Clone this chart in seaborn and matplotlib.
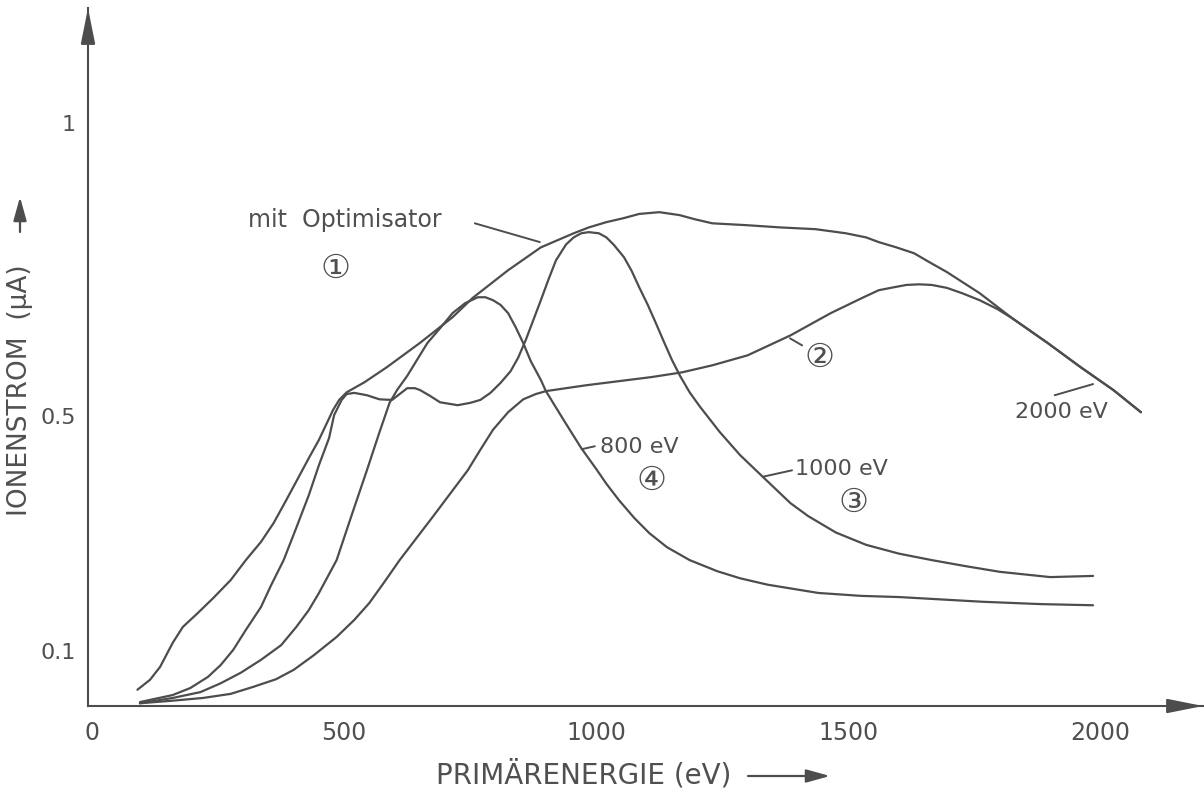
import numpy as np
import pandas as pd
import matplotlib
matplotlib.use("Agg")
import matplotlib.pyplot as plt
import seaborn as sns

# --- data (eV, uA) ---
# curve 1: "mit Optimisator" (envelope)
opt_x = [90, 115, 135, 160, 180, 210, 240, 275, 305, 335, 360, 385, 410, 430, 450, 478,
         490, 505, 540, 585, 650, 715, 755, 825, 890, 955, 985, 1020, 1055, 1085, 1125,
         1165, 1195, 1230, 1295, 1365, 1435, 1495, 1535, 1560, 1595, 1630, 1660, 1695,
         1760, 1825, 1895, 1960, 2025, 2080]
opt_y = [0.034, 0.051, 0.073, 0.114, 0.141, 0.165, 0.190, 0.221, 0.255, 0.286, 0.318,
         0.357, 0.397, 0.429, 0.460, 0.511, 0.528, 0.541, 0.558, 0.584, 0.625, 0.669,
         0.702, 0.749, 0.788, 0.812, 0.822, 0.831, 0.838, 0.845, 0.848, 0.843, 0.836,
         0.829, 0.826, 0.822, 0.819, 0.812, 0.805, 0.797, 0.788, 0.778, 0.763, 0.746,
         0.710, 0.667, 0.625, 0.584, 0.545, 0.507]

# curve 2: optimiser set to 2000 eV
c2_x = [95, 155, 220, 275, 320, 365, 400, 440, 485, 520, 550, 580, 610, 675, 710, 745,
        770, 795, 825, 855, 880, 900, 980, 1045, 1110, 1170, 1230, 1300, 1385, 1465,
        1530, 1560, 1590, 1615, 1640, 1665, 1695, 1725, 1760, 1795, 1825, 1895, 1960,
        2025, 2080]
c2_y = [0.011, 0.015, 0.020, 0.027, 0.039, 0.052, 0.068, 0.093, 0.124, 0.153, 0.182,
        0.218, 0.255, 0.328, 0.368, 0.408, 0.443, 0.477, 0.507, 0.529, 0.538, 0.543,
        0.553, 0.560, 0.567, 0.575, 0.587, 0.604, 0.638, 0.676, 0.703, 0.715, 0.720,
        0.724, 0.725, 0.724, 0.719, 0.710, 0.698, 0.683, 0.667, 0.625, 0.584, 0.545,
        0.507]

# curve 3: optimiser set to 1000 eV
c3_x = [95, 160, 195, 230, 255, 280, 305, 335, 355, 380, 405, 430, 450, 470, 480, 495,
        505, 520, 545, 570, 595, 610, 625, 640, 650, 670, 690, 725, 750, 770, 790, 810,
        830, 845, 860, 875, 890, 905, 920, 940, 955, 970, 985, 1005, 1020, 1035, 1055,
        1070, 1085, 1102, 1118, 1134, 1150, 1166, 1185, 1205, 1245, 1285, 1330, 1385,
        1420, 1475, 1535, 1600, 1665, 1730, 1800, 1900, 1985]
c3_y = [0.013, 0.025, 0.037, 0.056, 0.076, 0.102, 0.136, 0.175, 0.212, 0.255, 0.310,
        0.366, 0.417, 0.463, 0.502, 0.528, 0.538, 0.540, 0.536, 0.529, 0.528, 0.538,
        0.548, 0.548, 0.545, 0.535, 0.524, 0.519, 0.523, 0.528, 0.540, 0.557, 0.577,
        0.600, 0.630, 0.664, 0.698, 0.733, 0.766, 0.793, 0.805, 0.812, 0.814, 0.812,
        0.805, 0.792, 0.771, 0.748, 0.720, 0.690, 0.659, 0.627, 0.596, 0.569, 0.541,
        0.517, 0.473, 0.434, 0.397, 0.352, 0.330, 0.302, 0.281, 0.266, 0.255, 0.245,
        0.235, 0.226, 0.228]

# curve 4: optimiser set to 800 eV
c4_x = [95, 160, 215, 255, 295, 335, 375, 405, 430, 450, 485, 515, 545, 570, 590, 605,
        625, 665, 690, 715, 740, 765, 780, 795, 810, 825, 840, 855, 870, 890, 900, 935,
        970, 1000, 1020, 1045, 1075, 1105, 1140, 1185, 1240, 1285, 1340, 1440, 1525,
        1600, 1765, 1880, 1985]
c4_y = [0.011, 0.020, 0.030, 0.045, 0.063, 0.085, 0.110, 0.141, 0.170, 0.199, 0.255,
        0.332, 0.408, 0.473, 0.523, 0.545, 0.569, 0.625, 0.650, 0.676, 0.693, 0.703,
        0.703, 0.698, 0.690, 0.676, 0.652, 0.625, 0.594, 0.562, 0.543, 0.494, 0.446,
        0.410, 0.385, 0.357, 0.327, 0.301, 0.277, 0.255, 0.236, 0.224, 0.213, 0.199,
        0.194, 0.192, 0.184, 0.180, 0.178]

x_ticks = [0, 500, 1000, 1500, 2000]
y_ticks = [0.1, 0.5, 1]
y_tick_labels = ["0.1", "0.5", "1"]

INK = "#4d4d4d"
TXT = "#505050"

sns.set_style("white")
plt.rcParams["font.family"] = ["DejaVu Sans", "Noto Sans CJK JP"]

fig = plt.figure(figsize=(12.04, 7.9), dpi=100)
ax = fig.add_axes([88 / 1204, 84 / 790, 1115 / 1204, 698 / 790])

for xs, ys in [(opt_x, opt_y), (c2_x, c2_y), (c3_x, c3_y), (c4_x, c4_y)]:
    sns.lineplot(x=xs, y=ys, ax=ax, sort=False, estimator=None, color=INK, lw=1.6)

ax.set_xlim(-8, 2203)
ax.set_ylim(0.0063, 1.196)
sns.despine(ax=ax)
for side in ["left", "bottom"]:
    ax.spines[side].set_color(INK)
    ax.spines[side].set_linewidth(1.5)

ax.set_xticks(x_ticks)
ax.set_xticklabels([str(t) for t in x_ticks])
ax.set_yticks(y_ticks)
ax.set_yticklabels(y_tick_labels)
ax.tick_params(axis="x", direction="out", length=8, width=1.3, color=INK,
               labelsize=17, labelcolor=TXT, pad=3)
ax.tick_params(axis="y", direction="out", length=8, width=1.3, color=INK,
               labelsize=16, labelcolor=TXT, pad=1)

# arrow heads on both axes
head = dict(arrowstyle="-|>,head_length=1.1,head_width=0.22", color=INK, lw=1.5,
            mutation_scale=20, shrinkA=0, shrinkB=0)
ax.annotate("", xy=(1, 0), xytext=(0.97, 0), xycoords="axes fraction",
            textcoords="axes fraction", arrowprops=head, annotation_clip=False)
ax.annotate("", xy=(0, 1), xytext=(0, 0.96), xycoords="axes fraction",
            textcoords="axes fraction", arrowprops=head, annotation_clip=False)

# axis titles with their arrows
fig.text(436 / 1204, 15 / 790, "PRIMÄRENERGIE (eV)", fontsize=20, color=TXT,
         ha="left", va="center")
fig.text(20 / 1204, 400 / 790, "IONENSTROM  (µA)", fontsize=19, color=TXT,
         ha="center", va="center", rotation=90)
small_head = dict(arrowstyle="-|>,head_length=0.9,head_width=0.25", color=INK, lw=1.6,
                  mutation_scale=16, shrinkA=0, shrinkB=0)
ax.annotate("", xy=(830, 14), xytext=(748, 14), xycoords="figure pixels",
            textcoords="figure pixels", arrowprops=small_head, annotation_clip=False)
ax.annotate("", xy=(20, 593), xytext=(20, 558), xycoords="figure pixels",
            textcoords="figure pixels", arrowprops=small_head, annotation_clip=False)

# curve annotations
ax.text(309, 0.834, "mit  Optimisator", fontsize=17, color=TXT, ha="left", va="center")
ax.plot([759, 888], [0.829, 0.797], color=INK, lw=1.4)
ax.text(482, 0.753, "①", fontsize=24, color=TXT, ha="center", va="center")

ax.plot([971, 997], [0.444, 0.449], color=INK, lw=1.4)
ax.text(1007, 0.448, "800 eV", fontsize=16, color=TXT, ha="left", va="center")
ax.text(1110, 0.391, "④", fontsize=24, color=TXT, ha="center", va="center")

ax.plot([1330, 1388], [0.397, 0.408], color=INK, lw=1.4)
ax.text(1394, 0.410, "1000 eV", fontsize=16, color=TXT, ha="left", va="center")
ax.text(1509, 0.354, "③", fontsize=24, color=TXT, ha="center", va="center")

ax.plot([1384, 1408], [0.633, 0.621], color=INK, lw=1.4)
ax.text(1443, 0.601, "②", fontsize=24, color=TXT, ha="center", va="center")

ax.plot([1909, 1985], [0.536, 0.555], color=INK, lw=1.4)
ax.text(1830, 0.507, "2000 eV", fontsize=16, color=TXT, ha="left", va="center")

fig.savefig("out.png", dpi=100)
